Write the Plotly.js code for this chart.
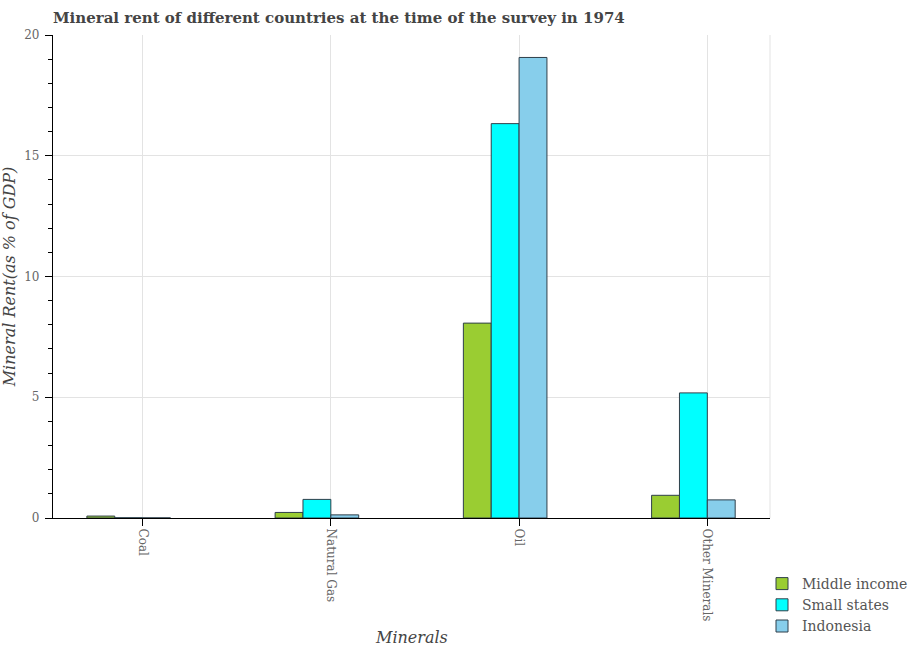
<!DOCTYPE html>
<html>
<head>
<meta charset="utf-8">
<script src="https://cdn.plot.ly/plotly-3.0.1.min.js"></script>
<style>html,body{margin:0;padding:0;background:#fff;}#chart{width:913px;height:650px;}</style>
</head>
<body>
<div id="chart"></div>
<script>
const categories = ["Coal", "Natural Gas", "Oil", "Other Minerals"];
const seriesNames = ["Middle income", "Small states", "Indonesia"];
const middleIncome = [0.08, 0.23, 8.07, 0.94];
const smallStates = [0.01, 0.77, 16.33, 5.18];
const indonesia = [0.005, 0.13, 19.07, 0.75];
const yTickStep = 5;
const yMinorStep = 1;

const colors = ["#9ACD32", "#00FFFF", "#87CEEB"];
const values = [middleIncome, smallStates, indonesia];
const barW = 0.148;
const offsets = [-2 * barW, -barW, 0];
const xIdx = categories.map((c, i) => i);

const traces = values.map((v, k) => ({
  type: "bar",
  name: seriesNames[k],
  x: xIdx,
  y: v,
  width: barW,
  offset: offsets[k],
  marker: {color: colors[k], line: {color: "#2f3f4a", width: 1}},
  hoverinfo: "x+y+name"
}));

const serif = "DejaVu Serif, serif";
const layout = {
  width: 913, height: 650,
  margin: {l: 53, r: 143, t: 35, b: 132},
  paper_bgcolor: "#fff", plot_bgcolor: "#fff",
  barmode: "overlay",
  showlegend: true,
  title: {text: "Mineral rent of different countries at the time of the survey in 1974",
          x: 53/913, xanchor: "left", y: 1 - 18/650, yanchor: "middle",
          font: {family: serif, size: 15, color: "#444", weight: "bold"}},
  xaxis: {
    range: [-0.476, 3.333],
    tickvals: xIdx, ticktext: categories, tickangle: 90,
    showgrid: true, gridcolor: "#e3e3e3", gridwidth: 1,
    showline: true, linecolor: "#000", linewidth: 1.3,
    ticks: "outside", ticklen: 7, tickwidth: 1.3, tickcolor: "#000",
    tickfont: {family: serif, size: 12, color: "#666"},
    zeroline: false
  },
  yaxis: {
    range: [0, 20],
    tickmode: "linear", tick0: 0, dtick: yTickStep,
    showgrid: true, gridcolor: "#e3e3e3", gridwidth: 1,
    showline: true, linecolor: "#000", linewidth: 1.3,
    ticks: "outside", ticklen: 7, tickwidth: 1.3, tickcolor: "#000",
    minor: {tickmode: "linear", tick0: 0, dtick: yMinorStep, ticks: "outside", ticklen: 4, tickwidth: 1.3, tickcolor: "#000", showgrid: false},
    tickfont: {family: serif, size: 12, color: "#666"},
    ticklabelstandoff: 3,
    zeroline: false,
    title: {text: "Mineral Rent(as % of GDP)", standoff: 12, font: {family: serif, size: 16, color: "#444", style: "italic"}}
  },
  legend: {
    x: 1.02, xanchor: "left",
    yref: "container", y: 8/650, yanchor: "bottom",
    font: {family: serif, size: 14, color: "#555"},
    bgcolor: "rgba(0,0,0,0)", tracegroupgap: 0
  },
  annotations: [{text: "Minerals", xref: "paper", yref: "paper", x: 0.5, y: -(637-518)/483,
                 xanchor: "center", yanchor: "middle", showarrow: false,
                 font: {family: serif, size: 16, color: "#444", style: "italic"}}],
  shapes: [{type: "line", xref: "paper", yref: "paper", x0: 1, x1: 1, y0: 0, y1: 1,
            line: {color: "#e3e3e3", width: 1}}]
};

Plotly.newPlot("chart", traces, layout, {displayModeBar: false});
</script>
</body>
</html>
